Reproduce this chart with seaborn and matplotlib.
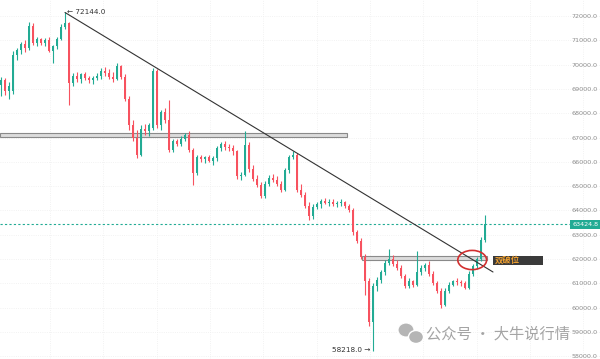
import numpy as np
import matplotlib.pyplot as plt
import matplotlib.patches as mpatches
import seaborn as sns

# 蜡烛图数据 (开, 高, 低, 收)
opens = [69150, 69350, 68900, 68900, 70400, 70600, 70850, 70700, 71600, 70900,
         71050, 70900, 71000, 70550, 70750, 71050, 71550, 71700, 69250, 69550,
         69400, 69600, 69450, 69350, 69450, 69550, 69750, 69650, 69500, 69400,
         69950, 69500, 68600, 67500, 67000, 66300, 67350, 67250, 67400, 69750,
         67500, 68050, 67700, 66500, 66850, 66750, 66950, 67100, 66500, 65550,
         66200, 66100, 66200, 66050, 66150, 66550, 66750, 66600, 66550, 66450,
         65400, 65450, 66700, 65700, 65300, 65050, 64600, 65100, 65350, 65250,
         65100, 64850, 65650, 66200, 66300, 64850, 64650, 64200, 63750, 64150,
         64250, 64400, 64300, 64350, 64250, 64300, 64350, 64200, 64000, 63100,
         62750, 62100, 61100, 59400, 60900, 61150, 61450, 61850, 62000, 61800,
         61650, 61300, 60900, 61100, 60950, 61450, 61650, 61750, 61400, 61000,
         60700, 60100, 60700, 60950, 61100, 61050, 61000, 60800, 61400, 61700,
         62000, 62800]
highs = [69500, 69450, 69300, 70550, 70700, 70950, 71000, 71750, 71700, 71150,
         71100, 71100, 71150, 70800, 71150, 71650, 72144, 71750, 69650, 69700,
         69650, 69700, 69550, 69550, 69650, 69850, 69900, 69800, 69700, 70050,
         70000, 69600, 68700, 67700, 67300, 67500, 67550, 67600, 69860, 69800,
         68150, 68200, 68550, 66950, 66950, 67050, 67200, 67250, 66550, 66300,
         66300, 66250, 66300, 66250, 66650, 66800, 66850, 66750, 66700, 66500,
         65600, 67250, 66800, 65850, 65450, 65150, 65200, 65450, 65500, 65400,
         65200, 65750, 66300, 66450, 66350, 65100, 64750, 64350, 64250, 64350,
         64450, 64500, 64450, 64450, 64400, 64450, 64400, 64250, 64100, 63200,
         62850, 62200, 61200, 61000, 61250, 61550, 61950, 62400, 62150, 61950,
         61750, 61400, 61200, 61150, 62350, 61750, 61850, 61900, 61500, 61100,
         60800, 60800, 61050, 61150, 61200, 61150, 61100, 61500, 61800, 62100,
         62900, 63800]
lows = [68700, 68750, 68600, 68800, 70200, 70450, 70500, 70600, 70800, 70750,
        70800, 70750, 70500, 70070, 70650, 71000, 71450, 68350, 69100, 69300,
        69250, 69350, 69250, 69200, 69350, 69400, 69550, 69400, 69300, 69350,
        69400, 68500, 67300, 66850, 66150, 66250, 67100, 67050, 67300, 67400,
        67300, 67600, 66400, 66400, 66650, 66650, 66850, 66400, 65050, 65450,
        66000, 65950, 66000, 65850, 66050, 66450, 66500, 66450, 66300, 65300,
        65250, 65400, 65600, 65200, 64950, 64500, 64500, 65000, 65150, 65000,
        64750, 64800, 65550, 66100, 64750, 64550, 64100, 63600, 63650, 64050,
        64100, 64250, 64200, 64200, 64150, 64200, 64100, 63950, 63000, 62650,
        62000, 60500, 59250, 58218, 60700, 61000, 61350, 61750, 61700, 61550,
        61200, 60800, 60800, 60850, 60900, 61350, 61500, 61300, 60950, 60600,
        60000, 60050, 60600, 60900, 60950, 60900, 60750, 60750, 61300, 61600,
        61900, 62700]
closes = [69350, 68900, 69100, 70400, 70600, 70850, 70700, 71600, 70900, 71050,
          70900, 71000, 70550, 70750, 71050, 71550, 71700, 69250, 69550, 69400,
          69600, 69450, 69350, 69450, 69550, 69750, 69650, 69500, 69400, 69950,
          69500, 68600, 67500, 67000, 66300, 67350, 67250, 67500, 69750, 67500,
          68050, 67700, 66500, 66850, 66750, 66950, 67100, 66500, 65550, 66200,
          66100, 66200, 66050, 66150, 66550, 66750, 66600, 66550, 66450, 65400,
          65450, 66700, 65700, 65300, 65050, 64600, 65100, 65350, 65250, 65100,
          64850, 65650, 66200, 66300, 64850, 64650, 64200, 63750, 64150, 64250,
          64400, 64300, 64350, 64250, 64300, 64350, 64200, 64000, 63100, 62750,
          62100, 61100, 59400, 60900, 61150, 61450, 61850, 62000, 61800, 61650,
          61300, 60900, 61100, 60950, 61450, 61650, 61750, 61400, 61000, 60700,
          60100, 60700, 60950, 61100, 61050, 61000, 60800, 61400, 61700, 62000,
          62800, 63424.8]

price_ticks = [72000, 71000, 70000, 69000, 68000, 67000, 66000, 65000,
               64000, 63000, 62000, 61000, 60000, 59000, 58000]
last_price = 63424.8
high_price = 72144.0
low_price = 58218.0
resist_top, resist_bot = 67185, 67020
break_top, break_bot = 62124, 61959

sns.set_theme(style="white")
plt.rcParams['font.family'] = ['DejaVu Sans', 'Noto Sans CJK SC']

up_col = '#22ab94'
dn_col = '#f7525f'

fig = plt.figure(figsize=(6, 3.59), dpi=100)
ax = fig.add_axes([0, 0, 1, 1])

idx = np.arange(len(closes))
o = np.array(opens); h = np.array(highs); l = np.array(lows); c = np.array(closes)
cols = np.where(c >= o, up_col, dn_col)

#Фитили и тела свечей
ax.vlines(idx, l, h, colors=cols, lw=0.8, zorder=3)
body = np.maximum(np.abs(c - o), 25)
ax.bar(idx, body, bottom=np.minimum(o, c), width=0.72, color=cols, lw=0, zorder=4)

# 阻力区 / 突破区
ax.add_patch(mpatches.Rectangle((-0.25, resist_bot), 86.8, resist_top - resist_bot,
                                facecolor='#dcdcdc', edgecolor='#8a8a8a', lw=0.8, zorder=2))
ax.add_patch(mpatches.Rectangle((90.2, break_bot), 31.3, break_top - break_bot,
                                facecolor='#dcdcdc', edgecolor='#8a8a8a', lw=0.8, zorder=2))

# 趋势线
ax.plot([16, 123], [high_price, 61466], color='#333333', lw=0.8, zorder=5)

# 红圈
ax.add_patch(mpatches.Ellipse((117.8, 61959), 7.2, 790, fill=False,
                              edgecolor='#d22f2f', lw=1.2, zorder=6))

# 双破位 标签
ax.add_patch(mpatches.Rectangle((123, 61754), 12.5, 370, facecolor='#3a3a3a',
                                edgecolor='none', zorder=5))
ax.text(123.5, 61939, '双破位', color='#f0a030', fontsize=6, va='center',
        ha='left', fontweight='bold', zorder=7)

# 最新价
ax.axhline(last_price, xmin=0, xmax=570 / 600, color=up_col, lw=0.8,
           ls=(0, (2, 2)), zorder=2)
ax.text(142.8, last_price, '63424.8', color='white', fontsize=4.6, va='center',
        ha='left', zorder=8,
        bbox=dict(boxstyle='square,pad=0.3', facecolor=up_col, edgecolor='none'))

# 高低点标注
ax.text(16.4, high_price + 30, '\u2190 72144.0', fontsize=5.2, color='#333333',
        va='center', ha='left', zorder=7)
ax.text(92.3, low_price + 20, '58218.0 \u2192', fontsize=5.2, color='#333333',
        va='center', ha='right', zorder=7)

# оси
ax.set_xlim(-0.25, 149.75)
ax.set_ylim(57886, 72658)
ax.set_xticks(np.arange(12.25, 149, 13.33))
ax.set_xticklabels([])
ax.set_yticks(price_ticks)
ax.set_yticklabels([f'{t:.1f}' for t in price_ticks])
ax.yaxis.tick_right()
ax.tick_params(axis='y', pad=-20.5, length=0, labelsize=4.6, labelcolor='#8c8c8c')
ax.tick_params(axis='x', length=0)
ax.grid(True, color='#eeeeee', lw=0.6, ls=':')
for s in ax.spines.values():
    s.set_visible(False)

# 水印
ax.add_patch(mpatches.Ellipse((406 / 600, 1 - 330 / 359), 16 / 600, 14 / 359,
                              transform=ax.transAxes, facecolor='#b5b5b5',
                              edgecolor='white', lw=0.8, zorder=9))
ax.add_patch(mpatches.Ellipse((416 / 600, 1 - 337 / 359), 15 / 600, 13 / 359,
                              transform=ax.transAxes, facecolor='#b5b5b5',
                              edgecolor='white', lw=1.0, zorder=10))
fig.text(426 / 600, 1 - 334 / 359, '公众号 · 大牛说行情', fontsize=11,
         color='#9a9a9a', va='center', ha='left', alpha=0.9,
         family=['Noto Sans CJK SC', 'DejaVu Sans'])

fig.savefig('out.png', dpi=100)
